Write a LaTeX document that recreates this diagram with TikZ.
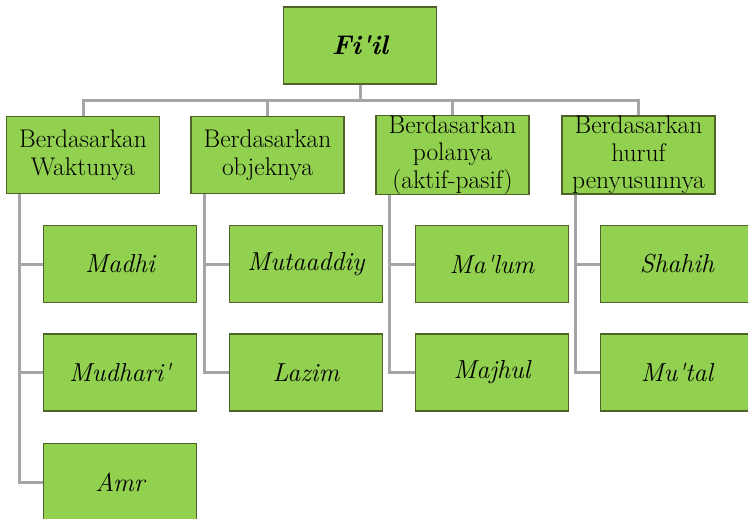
\documentclass[tikz,border=0pt]{standalone}
\usepackage{tikz}
\usepackage{color}
\usetikzlibrary{calc}
\definecolor{leafgreen}{HTML}{92D050}
\definecolor{edgegreen}{HTML}{4F6228}
\definecolor{linkgrey}{HTML}{A5A5A5}

\begin{document}
\begin{tikzpicture}[x=1pt, y=-1pt,
  box/.style={draw=edgegreen, line width=1.2pt, fill=leafgreen, rectangle, inner sep=0pt,
    minimum width=153pt, minimum height=77pt, align=center, font=\fontsize{25.5}{27.5}\selectfont},
  kind/.style={box, font=\fontsize{26}{28}\selectfont\itshape},
  link/.style={draw=linkgrey, line width=3pt}]
  \clip (0,0) rectangle (748,519);

  \node [box, font=\fontsize{27}{32}\selectfont\bfseries\itshape] (fiil) at (360, 45.5) {Fi\textquotesingle il};

  %groups under fi'il
  \node [box] (waktu) at (83, 155) {Berdasarkan\\Waktunya};
  \path [link] (fiil.south) -- ++(0,16) -| (waktu.north);
  \node [box] (objek) at (267.5, 155) {Berdasarkan\\objeknya};
  \path [link] (fiil.south) -- ++(0,16) -| (objek.north);
  \node [box] (pola) at (452.5, 155) {Berdasarkan\\polanya\\(aktif-pasif)};
  \path [link] (fiil.south) -- ++(0,16) -| (pola.north);
  \node [box] (huruf) at (638.5, 155) {Berdasarkan\\huruf\\penyusunnya};
  \path [link] (fiil.south) -- ++(0,16) -| (huruf.north);

  %kinds of each group
  \node [kind] (madhi) at (120, 264) {Madhi};
  \path [link] ($(waktu.south west)+(14,0)$) |- (madhi.west);
  \node [kind] (mudhari) at (120, 372.5) {Mudhari\textquotesingle};
  \path [link] ($(waktu.south west)+(14,0)$) |- (mudhari.west);
  \node [kind] (amr) at (120, 482) {Amr};
  \path [link] ($(waktu.south west)+(14,0)$) |- (amr.west);

  \node [kind] (mutaaddiy) at (306, 264) {Mutaaddiy};
  \path [link] ($(objek.south west)+(14,0)$) |- (mutaaddiy.west);
  \node [kind] (lazim) at (306, 372.5) {Lazim};
  \path [link] ($(objek.south west)+(14,0)$) |- (lazim.west);

  \node [kind] (malum) at (492, 264) {Ma\textquotesingle lum};
  \path [link] ($(pola.south west)+(14,0)$) |- (malum.west);
  \node [kind] (majhul) at (492, 372.5) {Majhul};
  \path [link] ($(pola.south west)+(14,0)$) |- (majhul.west);

  \node [kind] (shahih) at (677, 264) {Shahih};
  \path [link] ($(huruf.south west)+(14,0)$) |- (shahih.west);
  \node [kind] (mutal) at (677, 372.5) {Mu\textquotesingle tal};
  \path [link] ($(huruf.south west)+(14,0)$) |- (mutal.west);

\end{tikzpicture}
\end{document}
